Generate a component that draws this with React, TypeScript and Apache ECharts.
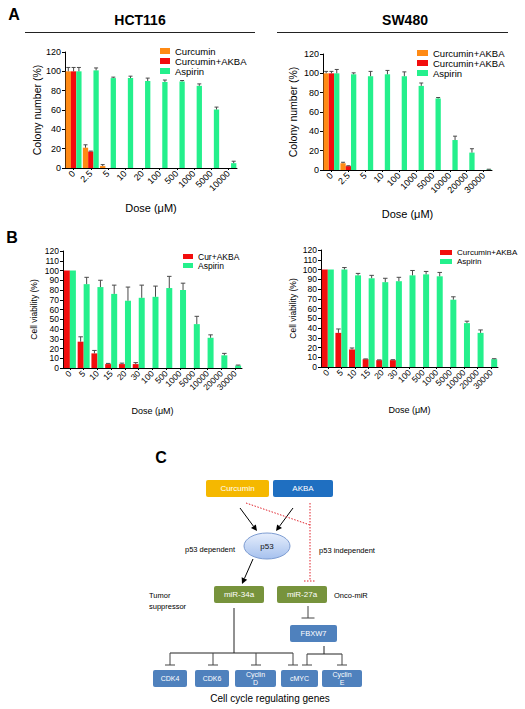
import React, { useEffect, useRef } from 'react';
import * as echarts from 'echarts';

const FONT = 'Arial, "Liberation Sans", Helvetica, sans-serif';

// ---------- Panel A: colony formation ----------
const hctColonyDoses = ['0', '2.5', '5', '10', '20', '100', '500', '1000', '5000', '10000'];
const hctColonyCurcumin = [100, 21, 2, null, null, null, null, null, null, null];
const hctColonyCurcuminErr = [4, 3, 1.5, 0, 0, 0, 0, 0, 0, 0];
const hctColonyCurAkba = [100, 17, null, null, null, null, null, null, null, null];
const hctColonyCurAkbaErr = [4, 0.5, 0, 0, 0, 0, 0, 0, 0, 0];
const hctColonyAspirin = [100, 101, 93, 93, 90, 89, 89.5, 85, 60.5, 5];
const hctColonyAspirinErr = [4, 2.5, 1, 2, 3, 2, 1, 2, 2.5, 2];

const swColonyDoses = ['0', '2.5', '5', '10', '100', '1000', '5000', '10000', '20000', '30000'];
const swColonyOrange = [100, 7, null, null, null, null, null, null, null, null];
const swColonyOrangeErr = [2, 1, 0, 0, 0, 0, 0, 0, 0, 0];
const swColonyRed = [100, 4, null, null, null, null, null, null, null, null];
const swColonyRedErr = [2, 0.4, 0, 0, 0, 0, 0, 0, 0, 0];
const swColonyAspirin = [100, 99, 97, 99, 97, 87, 74, 31, 18, 0.5];
const swColonyAspirinErr = [4, 1.5, 5, 4, 4.5, 3, 1, 4, 4, 0.3];

// ---------- Panel B: cell viability ----------
const viabilityDoses = ['0', '5', '10', '15', '20', '30', '100', '500', '1000', '5000', '10000', '20000', '30000'];
const hctViabCurAkba = [100, 27, 15, 4, 4, 4, null, null, null, null, null, null, null];
const hctViabCurAkbaErr = [0, 5, 3, 0.7, 1, 1.5, 0, 0, 0, 0, 0, 0, 0];
const hctViabAspirin = [100, 86, 83, 76, 69, 72, 73, 82, 80, 45, 31, 13, 2.5];
const hctViabAspirinErr = [0, 7, 7, 9, 14, 13, 11, 12, 7, 8, 3, 2, 0.5];

const swViabCurAkba = [100, 35, 18, 8, 7, 7, null, null, null, null, null, null, null];
const swViabCurAkbaErr = [0, 4, 1.5, 0.3, 0.3, 0.5, 0, 0, 0, 0, 0, 0, 0];
const swViabAspirin = [100, 100, 94, 91, 87, 88, 94, 95, 93, 69, 45, 35, 8];
const swViabAspirinErr = [0, 2, 2, 3, 4, 4, 5, 3, 4, 3, 2, 3, 0.5];

// ---------- Panel C: pathway labels ----------
const drugLabels = ['Curcumin', 'AKBA'];
const mirLabels = ['miR-34a', 'miR-27a'];
const targetGenes = ['CDK4', 'CDK6', 'Cyclin\nD', 'cMYC', 'Cyclin\nE'];

const ORANGE = '#FF8A14';
const RED = '#F20D0D';
const GREEN = '#24F08C';
const ERR = '#4a4a4a';

type S = { name: string; color: string; values: (number | null)[]; errs: number[] };

function barGroup(grid: number, list: S[], barWidth: number, cap: number) {
  const out: any[] = [];
  const n = list.length;
  list.forEach((s, i) => {
    out.push({
      type: 'bar',
      name: s.name,
      xAxisIndex: grid,
      yAxisIndex: grid,
      data: s.values,
      barWidth,
      barGap: '0%',
      itemStyle: { color: s.color },
      z: 2,
    });
  });
  list.forEach((s, i) => {
    const offset = (i - (n - 1) / 2) * barWidth;
    const data: number[][] = [];
    s.values.forEach((v, k) => {
      if (v !== null && s.errs[k] > 0) data.push([k, v, s.errs[k]]);
    });
    out.push({
      type: 'custom',
      name: s.name + '-err',
      xAxisIndex: grid,
      yAxisIndex: grid,
      data,
      z: 3,
      silent: true,
      renderItem: (_p: any, api: any) => {
        const c = api.value(0);
        const v = api.value(1);
        const e = api.value(2);
        const b = api.coord([c, v]);
        const t = api.coord([c, v + e]);
        const x = b[0] + offset;
        return {
          type: 'group',
          children: [
            { type: 'line', shape: { x1: x, y1: b[1], x2: x, y2: t[1] }, style: { stroke: ERR, lineWidth: 1 } },
            { type: 'line', shape: { x1: x - cap / 2, y1: t[1], x2: x + cap / 2, y2: t[1] }, style: { stroke: ERR, lineWidth: 1 } },
          ],
        };
      },
    });
  });
  return out;
}

function xAx(grid: number, data: string[], fs: number, gap: number, nameFs: number) {
  return {
    gridIndex: grid,
    type: 'category',
    data,
    axisLine: { lineStyle: { color: '#000', width: 1 } },
    axisTick: { show: true, alignWithLabel: true, length: 2, lineStyle: { color: '#000' } },
    axisLabel: { rotate: 45, fontSize: fs, color: '#000', margin: 4, interval: 0, fontFamily: FONT },
    name: 'Dose (μM)',
    nameLocation: 'middle',
    nameGap: gap,
    nameTextStyle: { fontSize: nameFs, color: '#000', fontFamily: FONT },
  };
}

function yAx(grid: number, interval: number, name: string, fs: number, nameFs: number, gap: number) {
  return {
    gridIndex: grid,
    type: 'value',
    min: 0,
    max: 120,
    interval,
    axisLine: { show: true, lineStyle: { color: '#000', width: 1 } },
    axisTick: { show: true, length: 3, lineStyle: { color: '#000' } },
    splitLine: { show: false },
    axisLabel: { fontSize: fs, color: '#000', margin: 4, fontFamily: FONT },
    name,
    nameLocation: 'middle',
    nameGap: gap,
    nameTextStyle: { fontSize: nameFs, color: '#000', fontFamily: FONT },
  };
}

function legend(left: number, top: number, data: string[], fs: number, lh: number, iw: number, ih: number) {
  return {
    left,
    top,
    orient: 'vertical',
    data: data.map((d) => ({ name: d, icon: 'rect' })),
    itemWidth: iw,
    itemHeight: ih,
    itemGap: 0,
    padding: 0,
    selectedMode: false,
    formatter: (nm: string) => nm.trim(),
    textStyle: { fontSize: fs, lineHeight: lh, color: '#000', fontFamily: FONT, padding: [0, 0, 0, 0] },
    itemStyle: { borderWidth: 0 },
  };
}

function txt(x: number, y: number, text: string, size: number, opts: any = {}) {
  return {
    type: 'text',
    x,
    y,
    silent: true,
    style: {
      text,
      fill: opts.fill || '#000',
      font: `${opts.bold ? 'bold ' : ''}${size}px ${FONT}`,
      textAlign: opts.align || 'center',
      textVerticalAlign: 'middle',
      align: opts.align || 'center',
      verticalAlign: 'middle',
      lineHeight: opts.lh,
    },
  };
}

function ln(x1: number, y1: number, x2: number, y2: number, stroke = '#111', dash?: number[]) {
  return {
    type: 'line',
    silent: true,
    shape: { x1, y1, x2, y2 },
    style: { stroke, lineWidth: 1, lineDash: dash },
  };
}

function box(x: number, y: number, w: number, h: number, fill: string, label: string, fs = 8, lh?: number) {
  return [
    { type: 'rect', silent: true, shape: { x, y, width: w, height: h, r: 2 }, style: { fill } },
    txt(x + w / 2, y + h / 2, label, fs, { fill: '#fff', lh }),
  ];
}

function arrow(x1: number, y1: number, x2: number, y2: number) {
  const a = Math.atan2(y2 - y1, x2 - x1);
  const L = 6;
  const W = 3;
  const bx = x2 - L * Math.cos(a);
  const by = y2 - L * Math.sin(a);
  const px = -Math.sin(a);
  const py = Math.cos(a);
  return [
    ln(x1, y1, bx, by, '#000'),
    {
      type: 'polygon',
      silent: true,
      shape: { points: [[x2, y2], [bx + px * W, by + py * W], [bx - px * W, by - py * W]] },
      style: { fill: '#000' },
    },
  ];
}

function inhibit(x: number, y1: number, y2: number, capW: number, stroke = '#222') {
  return [ln(x, y1, x, y2, stroke), ln(x - capW / 2, y2, x + capW / 2, y2, stroke)];
}

export default function App() {
  const ref = useRef<HTMLDivElement>(null);
  useEffect(() => {
    if (!ref.current) return;
    const chart = echarts.init(ref.current, undefined, { renderer: 'svg' });

    const series = [
      ...barGroup(0, [
        { name: 'Curcumin', color: ORANGE, values: hctColonyCurcumin, errs: hctColonyCurcuminErr },
        { name: 'Curcumin+AKBA', color: RED, values: hctColonyCurAkba, errs: hctColonyCurAkbaErr },
        { name: 'Aspirin', color: GREEN, values: hctColonyAspirin, errs: hctColonyAspirinErr },
      ], 5.3, 4),
      ...barGroup(1, [
        { name: 'Curcumin+AKBA ', color: ORANGE, values: swColonyOrange, errs: swColonyOrangeErr },
        { name: 'Curcumin+AKBA', color: RED, values: swColonyRed, errs: swColonyRedErr },
        { name: 'Aspirin', color: GREEN, values: swColonyAspirin, errs: swColonyAspirinErr },
      ], 5.3, 4),
      ...barGroup(2, [
        { name: 'Cur+AKBA', color: RED, values: hctViabCurAkba, errs: hctViabCurAkbaErr },
        { name: 'Aspirin', color: GREEN, values: hctViabAspirin, errs: hctViabAspirinErr },
      ], 6, 4.5),
      ...barGroup(3, [
        { name: 'Curcumin+AKBA', color: RED, values: swViabCurAkba, errs: swViabCurAkbaErr },
        { name: 'Aspirin', color: GREEN, values: swViabAspirin, errs: swViabAspirinErr },
      ], 6, 4.5),
    ];

    // ---- pathway diagram (panel C) ----
    const graphics: any[] = [
      txt(14, 14, 'A', 16, { bold: true }),
      txt(12, 237, 'B', 16, { bold: true }),
      txt(161, 457, 'C', 16, { bold: true }),
      txt(140, 20, 'HCT116', 14, { bold: true }),
      txt(405, 20, 'SW480', 14, { bold: true }),
      ln(25, 32.5, 255, 32.5, '#222'),
      ln(277, 32.5, 508, 32.5, '#222'),

      ...box(206, 480, 63, 17, '#F5B800', drugLabels[0]),
      ...box(273, 480, 60, 17, '#1F6FC1', drugLabels[1]),
      ...arrow(240, 508, 257, 531),
      ...arrow(293, 508, 276, 531),
      ln(246, 503, 310, 525, '#E0202A', [1.5, 1.5]),
      ln(310, 503, 310, 581, '#E0202A', [1.5, 1.5]),
      ln(304, 581, 316, 581, '#E0202A', [1.5, 1.5]),
      {
        type: 'ellipse',
        silent: true,
        shape: { cx: 267, cy: 546, rx: 23, ry: 13 },
        style: {
          fill: new echarts.graphic.LinearGradient(0, 0, 0, 1, [
            { offset: 0, color: '#E6EEFC' },
            { offset: 1, color: '#A6C1EE' },
          ]),
          stroke: '#7E9DD2',
          lineWidth: 1,
        },
      },
      txt(267, 546, 'p53', 8, { fill: '#111' }),
      txt(210, 549, 'p53 dependent', 7.5),
      txt(347, 550, 'p53 independent', 7.5),
      ...arrow(253, 559, 242, 584),
      ...box(214, 586, 50, 17, '#77933C', mirLabels[0]),
      ...box(277, 586, 50, 17, '#77933C', mirLabels[1]),
      txt(334, 595, 'Onco-miR', 7.5, { align: 'left' }),
      txt(149, 595, 'Tumor', 7.5, { align: 'left' }),
      txt(149, 606, 'suppressor', 7.5, { align: 'left' }),

      ln(234, 608, 234, 653, '#222'),
      ln(170, 653, 293, 653, '#222'),
      ...inhibit(170, 653, 665, 10, '#444'),
      ...inhibit(213, 653, 665, 10, '#444'),
      ...inhibit(256, 653, 665, 10, '#444'),
      ...inhibit(293, 653, 665, 10, '#444'),
      ...inhibit(308, 606, 618, 13, '#444'),

      ...box(290, 625, 47, 17, '#4F81BD', 'FBXW7', 7.5),
      ln(324, 646, 324, 654, '#222'),
      ln(307, 654, 342, 654, '#222'),
      ...inhibit(307, 654, 665, 10, '#444'),
      ...inhibit(342, 654, 665, 10, '#444'),

      ...box(153, 670, 34, 17, '#4F81BD', targetGenes[0], 7),
      ...box(195, 670, 34, 17, '#4F81BD', targetGenes[1], 7),
      ...box(235, 670, 41, 17, '#4F81BD', targetGenes[2], 7, 7.5),
      ...box(281, 670, 37, 17, '#4F81BD', targetGenes[3], 7),
      ...box(322, 670, 40, 17, '#4F81BD', targetGenes[4], 7, 7.5),
      txt(270, 698, 'Cell cycle regulating genes', 10),
    ];

    chart.setOption({
      animation: false,
      backgroundColor: '#fff',
      textStyle: { fontFamily: FONT },
      grid: [
        { left: 65, top: 52, width: 172, height: 116 },
        { left: 323, top: 54, width: 169, height: 116 },
        { left: 63, top: 251, width: 179, height: 117 },
        { left: 321, top: 250, width: 177, height: 117 },
      ],
      xAxis: [
        xAx(0, hctColonyDoses, 9, 34, 11),
        xAx(1, swColonyDoses, 9, 38, 11),
        xAx(2, viabilityDoses, 8.5, 38, 9),
        xAx(3, viabilityDoses, 8.5, 38, 9),
      ],
      yAxis: [
        yAx(0, 20, 'Colony number (%)', 9, 10.5, 22),
        yAx(1, 20, 'Colony number (%)', 9, 10.5, 25),
        yAx(2, 10, 'Cell viability (%)', 8.5, 8.5, 25),
        yAx(3, 10, 'Cell viability (%)', 8.5, 8.5, 24),
      ],
      legend: [
        legend(160, 46, ['Curcumin', 'Curcumin+AKBA', 'Aspirin'], 9.5, 8, 10, 6),
        legend(417, 48, ['Curcumin+AKBA ', 'Curcumin+AKBA', 'Aspirin'], 9.5, 8.5, 11, 6),
        legend(183, 252, ['Cur+AKBA', 'Aspirin'], 8.5, 9, 10, 5),
        legend(440, 248, ['Curcumin+AKBA', 'Aspirin'], 8, 9, 12, 5),
      ],
      series,
      graphic: graphics,
    });
    return () => chart.dispose();
  }, []);

  return (
    <div
      ref={ref}
      style={{ position: 'fixed', left: 0, top: 0, width: 525, height: 709, background: '#fff' }}
    />
  );
}
